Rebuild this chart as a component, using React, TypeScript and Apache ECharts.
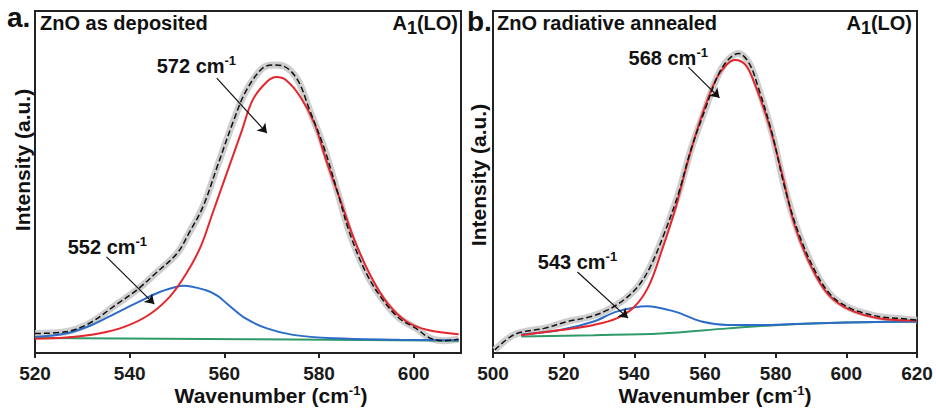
import React, { useEffect, useRef } from "react";
import * as echarts from "echarts";

const FONT = '"Liberation Sans", Arial, Helvetica, sans-serif';

// ---------- Panel a: ZnO as deposited ----------
const aMeasX = [520, 526.5, 531.5, 537, 541.5, 545.5, 550, 552.5, 555.5, 558.5, 562, 564.5, 568, 570.5, 572.5, 575.5, 578, 581, 584, 586.5, 590, 593.5, 597, 600.5, 603.5, 606.5, 609.5];
const aMeasY = [5.7, 6.2, 8.7, 14.0, 18.4, 23.3, 29.1, 35.0, 42.8, 54.5, 68.1, 76.4, 83.2, 84.2, 83.9, 79.8, 71.1, 60.3, 46.7, 35.0, 23.3, 15.5, 10.1, 7.2, 4.3, 3.6, 4.0];
const aRedX = [520, 526.5, 533.5, 539, 544, 548.5, 552, 555, 557.5, 560.5, 563.5, 566, 569, 571, 573, 576, 579, 581.5, 584.5, 587.5, 591, 594.5, 598.5, 603, 609.5];
const aRedY = [4.2, 4.5, 5.7, 7.7, 11.1, 16.5, 23.3, 31.1, 40.8, 52.5, 64.2, 74.0, 79.3, 80.7, 79.8, 75.0, 67.2, 56.4, 44.7, 33.0, 22.3, 14.5, 9.2, 6.7, 5.5];
const aBlueX = [520, 526.5, 532, 537, 542, 546.5, 551.5, 556, 558.5, 560.5, 564.5, 569, 574.5, 583, 597, 609.5];
const aBlueY = [4.7, 5.7, 8.2, 11.6, 15.0, 17.9, 19.7, 18.4, 16.8, 14.5, 10.1, 7.2, 5.3, 4.3, 3.9, 3.7];
const aGreenX = [520, 565, 609.5];
const aGreenY = [4.4, 4.0, 3.6];
const aPeakLabels = ["572", "552"];
const aLabelPos = [[554.1, 84.2], [535.3, 31.3]];
const aArrows = [
  [[558.4, 80.4], [569.0, 64.3]],
  [[535.1, 28.1], [545.2, 14.3]],
];

// ---------- Panel b: ZnO radiative annealed ----------
const bMeasX = [500.5, 505, 508.5, 514.5, 521, 527.5, 532.5, 537, 541, 544.5, 548.5, 552.5, 556, 560, 563.5, 566.5, 569.5, 572.5, 575, 579, 582.5, 586.5, 591.5, 596, 601, 604, 609.5, 615, 620];
const bMeasY = [0.9, 4.8, 6.2, 7.2, 9.2, 10.6, 12.6, 15.5, 19.4, 25.2, 35.0, 46.7, 59.4, 71.1, 80.8, 85.7, 87.6, 84.7, 77.9, 64.2, 48.6, 35.0, 23.3, 16.5, 13.1, 12.0, 10.6, 10.1, 9.6];
const bRedX = [508, 519, 528.5, 535, 540, 544, 547.5, 551.5, 555, 559, 563, 566, 568.5, 571.5, 574, 578, 582, 585.5, 590.5, 595, 601, 609.5, 620];
const bRedY = [5.2, 6.7, 8.2, 10.1, 13.5, 19.4, 29.1, 41.8, 55.5, 69.1, 79.8, 84.2, 85.7, 84.2, 78.9, 67.2, 51.6, 36.9, 24.3, 17.0, 12.6, 10.1, 9.5];
const bBlueX = [508, 519, 528.5, 535, 543.5, 551.5, 559, 566.5, 576, 585.5, 600, 620];
const bBlueY = [5.4, 6.7, 9.2, 12.1, 13.7, 12.1, 9.2, 8.2, 8.2, 8.5, 8.9, 9.2];
const bGreenX = [508, 528.5, 547.5, 566.5, 581, 595, 620];
const bGreenY = [4.8, 5.2, 5.7, 7.2, 8.2, 8.8, 9.2];
const bPeakLabels = ["568", "543"];
const bLabelPos = [[549.6, 86.5], [523.9, 26.9]];
const bArrows = [
  [[555.3, 83.6], [564.1, 74.6]],
  [[523.9, 23.7], [538.2, 10.2]],
];

const zip = (xs: number[], ys: number[]) => xs.map((x, i) => [x, ys[i]]);

const supRich = {
  m: { fontSize: 20, fontWeight: "bold", fontFamily: FONT, color: "#111", lineHeight: 22, verticalAlign: "bottom" },
  s: { fontSize: 13, fontWeight: "bold", fontFamily: FONT, color: "#111", lineHeight: 13, verticalAlign: "top" },
};

function panelSeries(
  idx: number,
  meas: number[][],
  red: number[][],
  blue: number[][],
  green: number[][],
  labels: string[],
  labelPos: number[][],
  arrows: number[][][]
) {
  const common = {
    type: "line",
    xAxisIndex: idx,
    yAxisIndex: idx,
    showSymbol: false,
    symbol: "none",
    smooth: 0.35,
    silent: true,
  };
  return [
    { ...common, name: "meas" + idx, data: meas, lineStyle: { color: "#c9c9c9", width: 7, opacity: 0.9 } },
    {
      ...common,
      name: "green" + idx,
      data: green,
      lineStyle: { color: "#2f9a68", width: 2 },
      markLine: {
        silent: true,
        symbol: ["none", "arrow"],
        symbolSize: 9,
        lineStyle: { color: "#111", width: 1.2, type: "solid" },
        label: { show: false },
        data: arrows.map((a) => [{ coord: a[0] }, { coord: a[1] }]),
      },
      markPoint: {
        silent: true,
        symbol: "circle",
        symbolSize: 1,
        itemStyle: { color: "transparent" },
        label: {
          show: true,
          position: "inside",
          formatter: (p: any) => `{m|${p.name} cm}{s|-1}`,
          rich: supRich,
        },
        data: labels.map((l, i) => ({ name: l, coord: labelPos[i] })),
      },
    },
    { ...common, name: "blue" + idx, data: blue, lineStyle: { color: "#2c6cc8", width: 2 } },
    { ...common, name: "red" + idx, data: red, lineStyle: { color: "#e5262c", width: 2 } },
    { ...common, name: "fit" + idx, data: meas, lineStyle: { color: "#111", width: 1.5, type: [6, 3] } },
  ];
}

function xAxisCfg(idx: number, min: number, max: number, showMax: boolean) {
  return {
    type: "value",
    gridIndex: idx,
    min,
    max,
    interval: 20,
    axisLine: { show: false },
    axisTick: { show: true, length: 5, inside: false, lineStyle: { color: "#222", width: 2 } },
    axisLabel: {
      show: true,
      margin: 11,
      color: "#1a1a1a",
      fontSize: 19,
      fontWeight: "bold",
      fontFamily: FONT,
      lineHeight: 19,
      showMaxLabel: showMax,
    },
    splitLine: { show: false },
  };
}

function yAxisCfg(idx: number) {
  return {
    type: "value",
    gridIndex: idx,
    min: 0,
    max: 100,
    axisLine: { show: false },
    axisTick: { show: false },
    axisLabel: { show: false },
    splitLine: { show: false },
  };
}

function textEl(text: string, x: number, y: number, fontSize: number, align = "left", extra: any = {}) {
  return {
    type: "text",
    x,
    y,
    silent: true,
    ...extra,
    style: {
      text,
      align,
      verticalAlign: "middle",
      fontSize,
      fontWeight: "bold",
      fontFamily: FONT,
      fill: "#111",
    },
  };
}

function richEl(text: string, x: number, y: number, align: string, rich: any) {
  return {
    type: "text",
    x,
    y,
    silent: true,
    style: { text, align, verticalAlign: "top", rich, fontFamily: FONT, fontWeight: "bold", fill: "#111" },
  };
}

const a1Rich = {
  m: { fontSize: 20, fontWeight: "bold", fontFamily: FONT, color: "#111", lineHeight: 20, verticalAlign: "top" },
  sub: { fontSize: 18, fontWeight: "bold", fontFamily: FONT, color: "#111", lineHeight: 24, verticalAlign: "bottom" },
};

const xNameRich = {
  m: { fontSize: 21, fontWeight: "bold", fontFamily: FONT, color: "#111", lineHeight: 22, verticalAlign: "bottom" },
  s: { fontSize: 13, fontWeight: "bold", fontFamily: FONT, color: "#111", lineHeight: 13, verticalAlign: "top" },
};

export default function App() {
  const ref = useRef<HTMLDivElement>(null);
  useEffect(() => {
    const chart = echarts.init(ref.current!, null, { renderer: "svg" });
    const option: any = {
      animation: false,
      backgroundColor: "#ffffff",
      grid: [
        { left: 35, top: 11, width: 426, height: 342, show: true, borderColor: "#222", borderWidth: 2, backgroundColor: "transparent" },
        { left: 493, top: 11, width: 424, height: 342, show: true, borderColor: "#222", borderWidth: 2, backgroundColor: "transparent" },
      ],
      xAxis: [xAxisCfg(0, 520, 610, false), xAxisCfg(1, 500, 620, true)],
      yAxis: [yAxisCfg(0), yAxisCfg(1)],
      series: [
        ...panelSeries(0, zip(aMeasX, aMeasY), zip(aRedX, aRedY), zip(aBlueX, aBlueY), zip(aGreenX, aGreenY), aPeakLabels, aLabelPos, aArrows),
        ...panelSeries(1, zip(bMeasX, bMeasY), zip(bRedX, bRedY), zip(bBlueX, bBlueY), zip(bGreenX, bGreenY), bPeakLabels, bLabelPos, bArrows),
      ],
      graphic: [
        textEl("a.", 7, 17, 28),
        textEl("b.", 467, 21, 28),
        textEl("ZnO as deposited", 40, 23, 20),
        textEl("ZnO radiative annealed", 497, 23, 20),
        richEl("{m|A}{sub|1}{m|(LO)}", 458, 13, "right", a1Rich),
        richEl("{m|A}{sub|1}{m|(LO)}", 912, 13, "right", a1Rich),
        textEl("Intensity (a.u.)", 22, 160, 21, "center", { rotation: Math.PI / 2 }),
        textEl("Intensity (a.u.)", 478, 175, 21, "center", { rotation: Math.PI / 2 }),
        richEl("{m|Wavenumber (cm}{s|-1}{m|)}", 271, 384, "center", xNameRich),
        richEl("{m|Wavenumber (cm}{s|-1}{m|)}", 715, 384, "center", xNameRich),
      ],
    };
    chart.setOption(option);
    return () => chart.dispose();
  }, []);
  return (
    <div
      ref={ref}
      style={{ position: "fixed", left: 0, top: 0, width: 936, height: 408, background: "#fff" }}
    />
  );
}
